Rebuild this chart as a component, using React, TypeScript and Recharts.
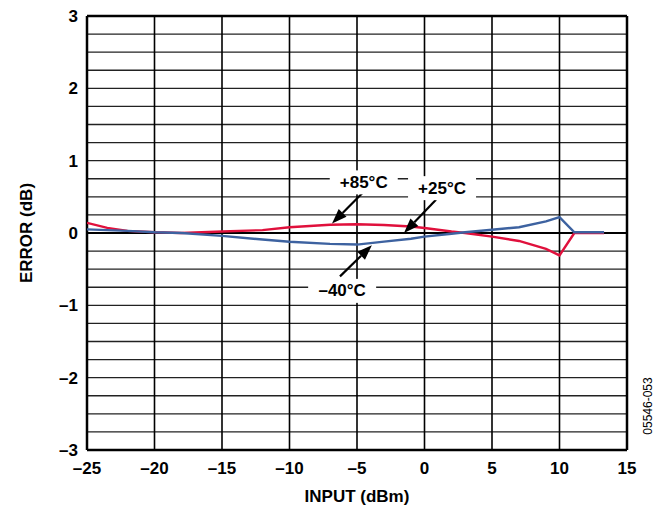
import React from 'react';
import {
  LineChart,
  Line,
  XAxis,
  YAxis,
  ReferenceLine,
  ReferenceDot,
  Label,
} from 'recharts';

// input level (dBm)
const inputRed = [-25, -23.5, -22, -20, -18, -15, -12, -10, -7, -5, -3, -1, 0, 2, 3, 5, 7, 9, 10, 11.1, 13.3];
const error85 = [0.14, 0.07, 0.03, 0.01, 0.0, 0.02, 0.04, 0.08, 0.115, 0.12, 0.11, 0.09, 0.07, 0.02, 0.0, -0.05, -0.11, -0.22, -0.31, 0.0, 0.0];

const inputBlue = [-25, -22, -20, -18, -15, -12, -10, -7, -5, -3, -1, 0, 2, 3, 5, 7, 9, 10, 11.1, 13.3];
const errorMinus40 = [0.05, 0.03, 0.01, 0.0, -0.04, -0.09, -0.12, -0.15, -0.16, -0.12, -0.08, -0.05, -0.01, 0.01, 0.045, 0.08, 0.16, 0.22, 0.01, 0.01];

const xTicks = [-25, -20, -15, -10, -5, 0, 5, 10, 15];
const yTicks = [-3, -2, -1, 0, 1, 2, 3];
const yGrid = [-2.75, -2.5, -2.25, -2, -1.75, -1.5, -1.25, -1, -0.75, -0.5, -0.25, 0.25, 0.5, 0.75, 1, 1.25, 1.5, 1.75, 2, 2.25, 2.5, 2.75];
const xGrid = [-20, -15, -10, -5, 0, 5, 10];

// annotation labels: [text, x, y]
const tempLabels: [string, number, number][] = [
  ['+85°C', -4.5, 0.7],
  ['+25°C', 1.3, 0.62],
  ['–40°C', -6.1, -0.8],
];
// arrows: tail -> tip
const arrows = [
  [{ x: -4.56, y: 0.56 }, { x: -6.85, y: 0.13 }],
  [{ x: 0.85, y: 0.46 }, { x: -1.52, y: 0.0 }],
  [{ x: -6.26, y: -0.6 }, { x: -3.9, y: -0.17 }],
];

const redData = inputRed.map((x, i) => ({ x, v: error85[i] }));
const blueData = inputBlue.map((x, i) => ({ x, v: errorMinus40[i] }));

const FONT = '"Liberation Sans", Arial, sans-serif';
const boldText = { fill: '#000', stroke: 'none', fontFamily: FONT, fontWeight: 'bold', fontSize: 17 };

const fmt = (v: number) => (v < 0 ? '–' + Math.abs(v) : String(v));

const Arrow = (props: any) => {
  const { x1, y1, x2, y2 } = props;
  if ([x1, y1, x2, y2].some((n) => typeof n !== 'number' || isNaN(n))) return null;
  const dx = x2 - x1;
  const dy = y2 - y1;
  const len = Math.sqrt(dx * dx + dy * dy);
  const ux = dx / len;
  const uy = dy / len;
  const hl = 15;
  const hw = 5.5;
  const bx = x2 - ux * hl;
  const by = y2 - uy * hl;
  const pts = `${x2},${y2} ${bx - uy * hw},${by + ux * hw} ${bx + uy * hw},${by - ux * hw}`;
  return (
    <g>
      <line x1={x1} y1={y1} x2={bx} y2={by} stroke="#000" strokeWidth={2.2} />
      <polygon points={pts} fill="#000" />
    </g>
  );
};

const tagShape = (text: string) => (props: any) => {
  const { cx, cy } = props;
  return (
    <g>
      <rect x={cx - 34} y={cy - 12} width={68} height={24} fill="#fff" />
      <text x={cx} y={cy} textAnchor="middle" dominantBaseline="central" {...boldText}>
        {text}
      </text>
    </g>
  );
};

export default function App() {
  return (
    <div style={{ position: 'absolute', left: 0, top: 0, width: 662, height: 510, background: '#fff' }}>
      <LineChart width={662} height={510} margin={{ top: 16, right: 35, bottom: 0, left: 0 }}>
        <XAxis
          type="number"
          dataKey="x"
          domain={[-25, 15]}
          ticks={xTicks}
          tickFormatter={fmt}
          allowDataOverflow
          height={60}
          axisLine={false}
          tickLine={false}
          tick={boldText}
          tickMargin={6}
        >
          <Label value="INPUT (dBm)" position="insideBottom" offset={8} fill="#000" style={boldText} />
        </XAxis>
        <YAxis
          type="number"
          domain={[-3, 3]}
          ticks={yTicks}
          tickFormatter={fmt}
          allowDataOverflow
          width={87}
          axisLine={false}
          tickLine={false}
          tick={boldText}
          tickMargin={3}
        >
          <Label
            value="ERROR (dB)"
            angle={-90}
            position="insideLeft"
            offset={26}
            fill="#000"
            style={{ ...boldText, textAnchor: 'middle' }}
          />
        </YAxis>
        {yGrid.map((v) => (
          <ReferenceLine key={'h' + v} y={v} stroke="#222" strokeWidth={1.3} />
        ))}
        {xGrid.map((v) => (
          <ReferenceLine key={'v' + v} x={v} stroke="#000" strokeWidth={1.6} />
        ))}
        <ReferenceLine y={0} stroke="#000" strokeWidth={2.2} />
        <ReferenceLine x={-25} stroke="#000" strokeWidth={2.5} />
        <ReferenceLine x={15} stroke="#000" strokeWidth={2.5} />
        <ReferenceLine y={3} stroke="#000" strokeWidth={2.5} />
        <ReferenceLine y={-3} stroke="#000" strokeWidth={2.5} />
        <Line
          data={redData}
          dataKey="v"
          type="linear"
          stroke="#e0103c"
          strokeWidth={2.4}
          dot={false}
          isAnimationActive={false}
        />
        <Line
          data={blueData}
          dataKey="v"
          type="linear"
          stroke="#3d62a0"
          strokeWidth={2.4}
          dot={false}
          isAnimationActive={false}
        />
        {tempLabels.map(([t, x, y]) => (
          <ReferenceDot key={t} x={x} y={y} r={0} shape={tagShape(t)} />
        ))}
        {arrows.map((seg, i) => (
          <ReferenceLine key={'a' + i} segment={seg} shape={Arrow} />
        ))}
        <text
          x={652}
          y={406}
          transform="rotate(-90 652 406)"
          textAnchor="middle"
          fontFamily={FONT}
          fontSize={12}
          fill="#000"
        >
          05546-053
        </text>
      </LineChart>
    </div>
  );
}
